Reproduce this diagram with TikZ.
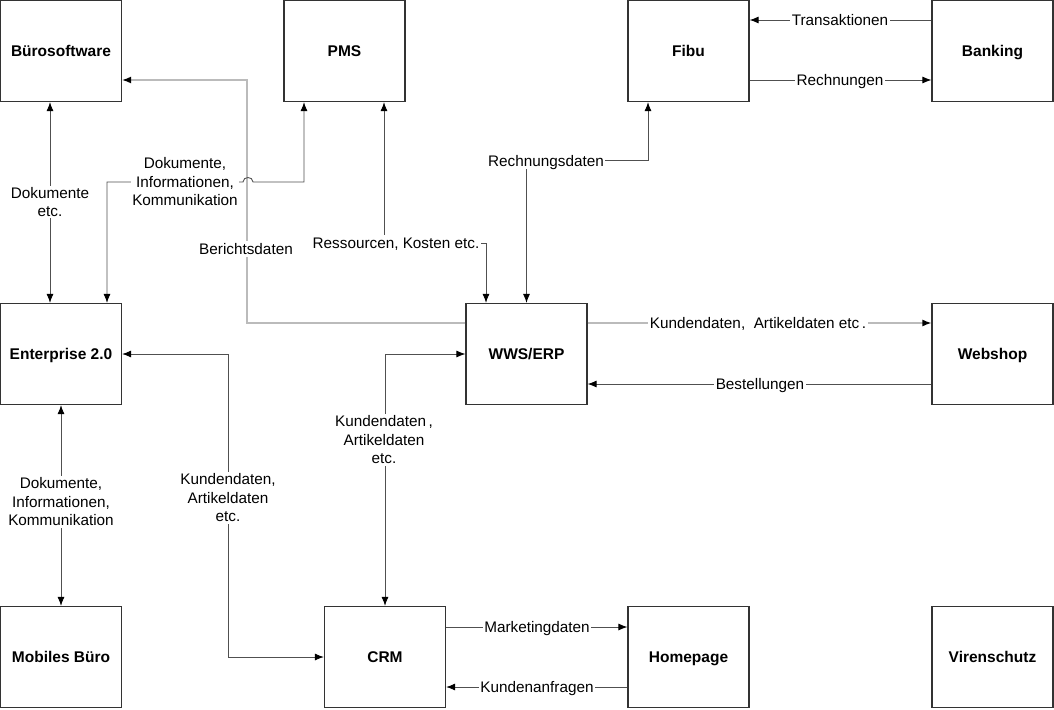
\documentclass[tikz,border=0pt]{standalone}
\usepackage{fontspec}
\setmainfont{Liberation Sans}
\usetikzlibrary{arrows.meta,calc}
\definecolor{boxline}{HTML}{333333}
\definecolor{conline}{HTML}{505050}
\definecolor{lightline}{HTML}{BBBBBB}
\tikzset{
  box/.style={draw=boxline,line width=1.2pt,minimum width=121pt,minimum height=101pt,inner sep=0pt,
    text height=10.8pt,text depth=0pt,font=\fontsize{15.5}{18}\selectfont\bfseries},
  con/.style={draw=conline,line width=0.9pt},
  lcon/.style={draw=lightline,line width=1.4pt},
  tip/.tip={Latex[length=9pt,width=7pt,color=black]},
  lbl/.style={fill=white,inner sep=1.5pt,align=center,font=\fontsize{15.3}{18.5}\selectfont},
  lblone/.style={lbl,text height=10.8pt,text depth=0pt,inner ysep=3pt}
}
\begin{document}
\begin{tikzpicture}[x=1pt,y=-1pt]
\useasboundingbox (0,0) rectangle (1054,709);
% boxes
\node[box] (buero) at (61,51) {Bürosoftware};
\node[box] (pms) at (344.5,51) {PMS};
\node[box] (fibu) at (688.5,51) {Fibu};
\node[box] (bank) at (992.5,51) {Banking};
\node[box] (ent) at (61,354) {Enterprise 2.0};
\node[box] (wws) at (526.5,354) {WWS/ERP};
\node[box] (shop) at (992.5,354) {Webshop};
\node[box] (mobil) at (61,657) {Mobiles Büro};
\node[box] (crm) at (385,657) {CRM};
\node[box] (home) at (688.5,657) {Homepage};
\node[box] (viren) at (992.5,657) {Virenschutz};

% bend points
\coordinate (b3a) at (247,323);
\coordinate (b3b) at (247,80);
\coordinate (h1) at (243,182);
\coordinate (h2) at (253,182);

% 3 Berichtsdaten (light)
\draw[lcon,-tip] ($(wws.west)+(0,-31)$) -- (b3a) -- (b3b) -- ($(buero.east)+(0,29)$);
% 8 Kundendaten -> Webshop (light)
\draw[lcon,-tip] ($(wws.east)+(0,-31)$) -- ($(shop.west)+(0,-31)$);

% 1 Buero <-> Enterprise
\draw[con,tip-tip] ($(buero.south)+(-11,0)$) -- ($(ent.north)+(-11,0)$);
% 2 Enterprise <-> PMS with hop
\draw[con,tip-tip] ($(ent.north)+(46,0)$) -- (107,182) -- (h1) .. controls +(0,-6) and +(0,-6) .. (h2) -- (304,182) -- ($(pms.south)+(-40.5,0)$);
% 4 PMS <-> WWS
\draw[con,tip-tip] ($(pms.south)+(39.5,0)$) -- (384,243) -- (486,243) -- ($(wws.north)+(-40.5,0)$);
% 5 WWS <-> Fibu
\draw[con,tip-tip] (wws.north) -- (526.5,160) -- (648,160) -- ($(fibu.south)+(-40.5,0)$);
% 6 Banking -> Fibu
\draw[con,-tip] ($(bank.west)+(0,-31)$) -- ($(fibu.east)+(0,-31)$);
% 7 Fibu -> Banking
\draw[con,-tip] ($(fibu.east)+(0,29)$) -- ($(bank.west)+(0,29)$);
% 9 Webshop -> WWS
\draw[con,-tip] ($(shop.west)+(0,30)$) -- ($(wws.east)+(0,30)$);
% 10 WWS <-> CRM
\draw[con,tip-tip] (wws.west) -- (385,354) -- (crm.north);
% 11 Enterprise <-> CRM
\draw[con,tip-tip] (ent.east) -- (228,354) -- (228,657) -- (crm.west);
% 12 Enterprise <-> Mobiles Buero
\draw[con,tip-tip] (ent.south) -- (mobil.north);
% 13 CRM -> Homepage
\draw[con,-tip] ($(crm.east)+(0,-30)$) -- ($(home.west)+(0,-30)$);
% 14 Homepage -> CRM
\draw[con,-tip] ($(home.west)+(0,30)$) -- ($(crm.east)+(0,30)$);

% labels
\node[lbl] (l1) at (50,202) {Dokumente\\etc.};
\node[lbl] (l2) at (185,182) {Dokumente,\\Informationen,\\Kommunikation};
\node[lblone] (l3) at (246,249) {Berichtsdaten};
\node[lblone] (l4) at (396,243) {Ressourcen, Kosten etc.};
\node[lblone] (l5) at (546,161) {Rechnungsdaten};
\node[lblone] (l6) at (840,20) {Transaktionen};
\node[lblone] (l7) at (840,80) {Rechnungen};
\node[lblone] (l8) at (758,323) {Kundendaten,\ \ Artikeldaten etc\,.};
\node[lblone] (l9) at (760,384) {Bestellungen};
\node[lbl] (l10) at (384,440) {Kundendaten\,,\\Artikeldaten\\etc.};
\node[lbl] (l11) at (228,498) {Kundendaten,\\Artikeldaten\\etc.};
\node[lbl] (l12) at (61,502) {Dokumente,\\Informationen,\\Kommunikation};
\node[lblone] (l13) at (537,627) {Marketingdaten};
\node[lblone] (l14) at (537,687) {Kundenanfragen};
\end{tikzpicture}
\end{document}
